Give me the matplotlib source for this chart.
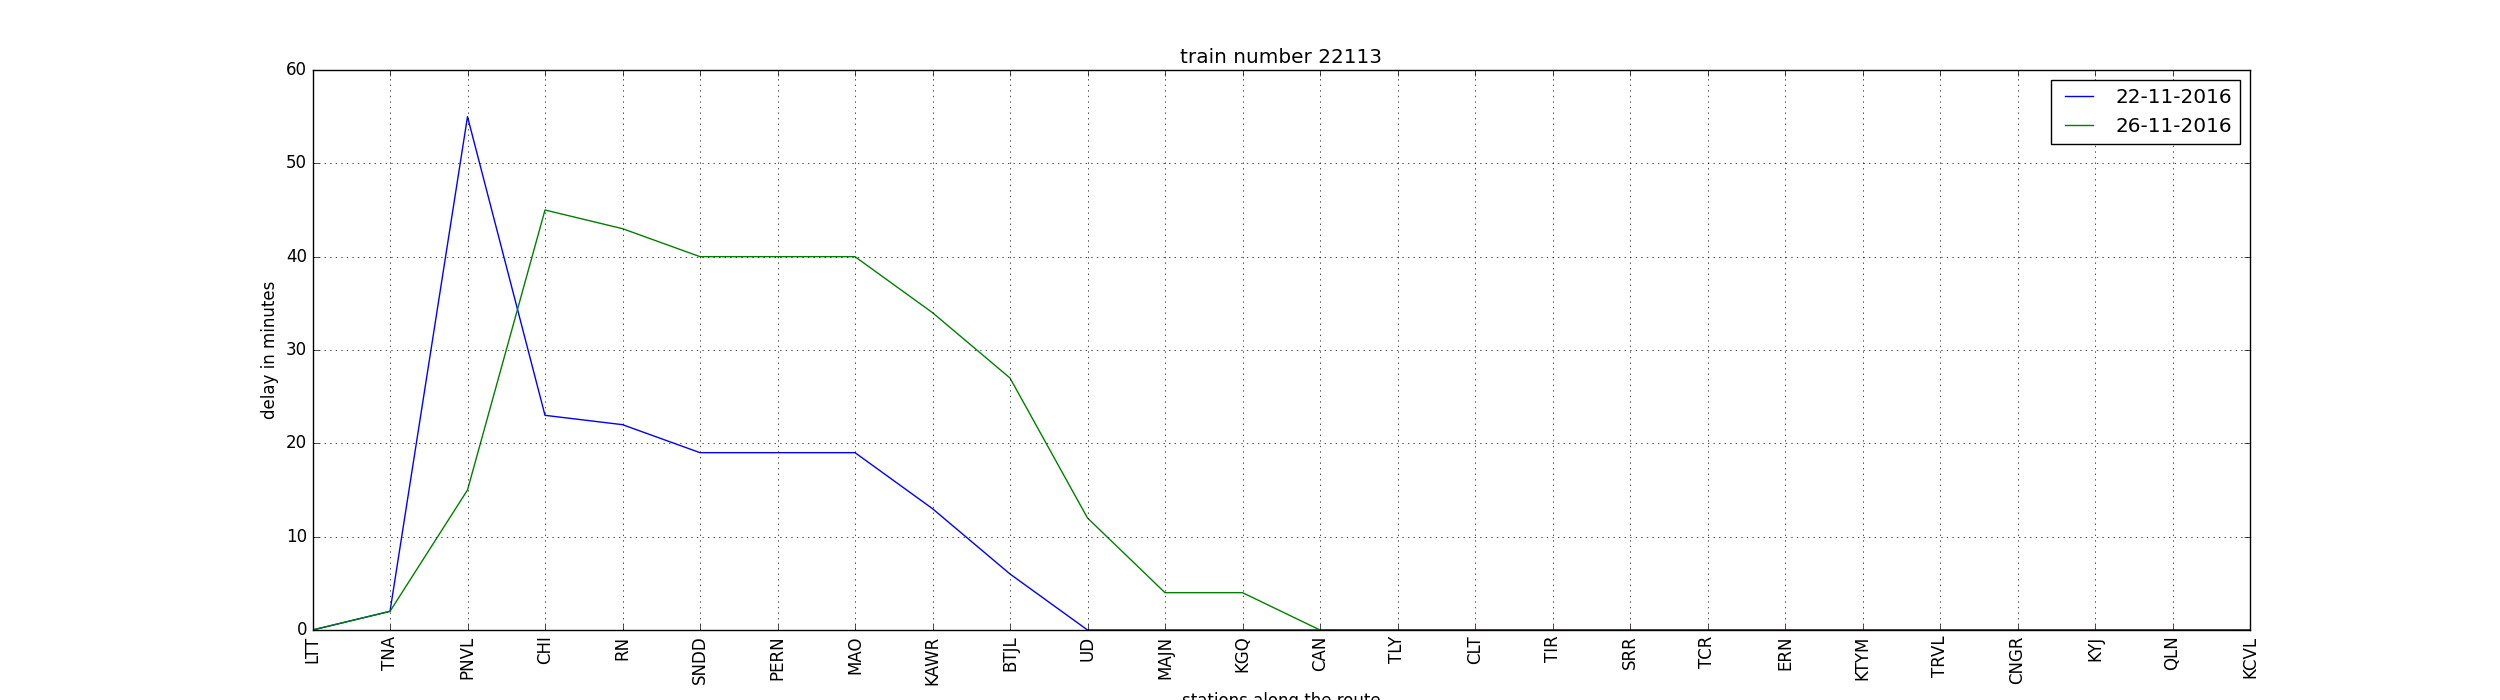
import numpy as np
import matplotlib
matplotlib.use('Agg')
import matplotlib.pyplot as plt

plt.style.use('classic')

stations = ['LTT', 'TNA', 'PNVL', 'CHI', 'RN', 'SNDD', 'PERN', 'MAO', 'KAWR',
            'BTJL', 'UD', 'MAJN', 'KGQ', 'CAN', 'TLY', 'CLT', 'TIR', 'SRR',
            'TCR', 'ERN', 'KTYM', 'TRVL', 'CNGR', 'KYJ', 'QLN', 'KCVL']
delay_22 = [0, 2, 55, 23, 22, 19, 19, 19, 13, 6, 0, 0, 0, 0,
            0, 0, 0, 0, 0, 0, 0, 0, 0, 0, 0, 0]
delay_26 = [0, 2, 15, 45, 43, 40, 40, 40, 34, 27, 12, 4, 4, 0,
            0, 0, 0, 0, 0, 0, 0, 0, 0, 0, 0, 0]

fig = plt.figure(figsize=(25, 7), dpi=100)
ax = fig.add_subplot(111)
x = np.arange(len(stations))
ax.plot(x, delay_22, label='22-11-2016')
ax.plot(x, delay_26, label='26-11-2016')

ax.set_xticks(x)
ax.set_xticklabels(stations, rotation='vertical')
ax.set_xlim(0, len(stations) - 1)
ax.set_ylim(0, 60)
ax.grid(True)
ax.set_title('train number 22113')
ax.set_xlabel('stations along the route')
ax.set_ylabel('delay in minutes')
ax.legend(loc='upper right')

fig.savefig('out.png', dpi=100)
